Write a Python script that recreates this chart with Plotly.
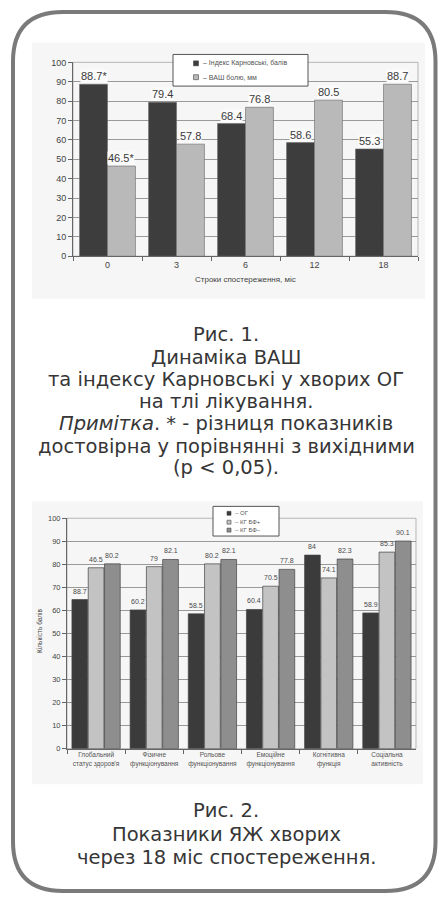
import plotly.graph_objects as go

W, H = 438, 901
def X(px): return px / W
def Y(py): return 1 - py / H

FONT = "Liberation Sans, Arial, sans-serif"
CAPFONT = "DejaVu Sans, sans-serif"

# ---- Chart 1 data ----
c1_categories = ["0", "3", "6", "12", "18"]
c1_karnofsky = [88.7, 79.4, 68.4, 58.6, 55.3]
c1_karnofsky_labels = ["88.7*", "79.4", "68.4", "58.6", "55.3"]
c1_vas = [46.5, 57.8, 76.8, 80.5, 88.7]
c1_vas_labels = ["46.5*", "57.8", "76.8", "80.5", "88.7"]
c1_series_names = ["– Індекс Карновські, балів", "– ВАШ болю, мм"]
c1_xtitle = "Строки спостереження, міс"
c1_yticks = list(range(0, 101, 10))

# ---- Chart 2 data ----
c2_categories = ["Глобальний<br>статус здоров'я", "Фізичне<br>функціонування",
                 "Рольове<br>функціонування", "Емоційне<br>функціонування",
                 "Когнітивна<br>функція", "Соціальна<br>активність"]
c2_og = [64.7, 60.2, 58.5, 60.4, 84, 58.9]
c2_og_labels = ["88.7", "60.2", "58.5", "60.4", "84", "58.9"]
c2_kg_bf_plus = [78.5, 79, 80.2, 70.5, 74.1, 85.3]
c2_kg_bf_plus_labels = ["46.5", "79", "80.2", "70.5", "74.1", "85.3"]
c2_kg_bf_minus = [80.2, 82.1, 82.1, 77.8, 82.3, 90.1]
c2_kg_bf_minus_labels = ["80.2", "82.1", "82.1", "77.8", "82.3", "90.1"]
c2_series_names = ["– ОГ", "– КГ БФ+", "– КГ БФ–"]
c2_ytitle = "Кількість балів"
c2_yticks = list(range(0, 101, 10))

captions1 = ["Рис. 1.", "Динаміка ВАШ", "та індексу Карновські у хворих ОГ",
             "на тлі лікування.", "<i>Примітка</i>. * - різниця показників",
             "достовірна у порівнянні з вихідними", "(p < 0,05)."]
captions2 = ["Рис. 2.", "Показники ЯЖ хворих", "через 18 міс спостереження."]

fig = go.Figure()

# chart 1 bars
c1_cols = ["#3d3d3d", "#b9b9b9"]
c1_w = 0.405
c1_off = [-0.405, 0.0]
for vals, col, off in zip([c1_karnofsky, c1_vas], c1_cols, c1_off):
    fig.add_trace(go.Bar(x=c1_categories, y=vals, marker=dict(color=col, line=dict(color="#6a6a6a", width=0.6)),
                         width=c1_w, offset=off, xaxis="x", yaxis="y", showlegend=False, hoverinfo="skip"))

# chart 2 bars
c2_cols = ["#3b3b3b", "#c3c3c3", "#8e8e8e"]
c2_w = 0.27
c2_off = [-0.415, -0.135, 0.145]
for vals, col, off in zip([c2_og, c2_kg_bf_plus, c2_kg_bf_minus], c2_cols, c2_off):
    fig.add_trace(go.Bar(x=c2_categories, y=vals, marker=dict(color=col, line=dict(color="#444", width=0.7)),
                         width=c2_w, offset=off, xaxis="x2", yaxis="y2", showlegend=False, hoverinfo="skip"))

ann = []
# chart 1 data labels
for vals, labs, off in zip([c1_karnofsky, c1_vas], [c1_karnofsky_labels, c1_vas_labels], c1_off):
    for i, (v, t) in enumerate(zip(vals, labs)):
        ann.append(dict(x=i + off + c1_w / 2, y=v, xref="x", yref="y", text=t, showarrow=False,
                        yanchor="bottom", yshift=1, font=dict(size=11, color="#3a3a3a", family=FONT),
                        bgcolor="#fbfbfb", borderpad=0))
# chart 2 data labels
for vals, labs, off in zip([c2_og, c2_kg_bf_plus, c2_kg_bf_minus],
                           [c2_og_labels, c2_kg_bf_plus_labels, c2_kg_bf_minus_labels], c2_off):
    for i, (v, t) in enumerate(zip(vals, labs)):
        ann.append(dict(x=i + off + c2_w / 2, y=v, xref="x2", yref="y2", text=t, showarrow=False,
                        yanchor="bottom", yshift=3, font=dict(size=7, color="#4a4a4a", family=FONT)))

# captions
cap1_y = [333, 356, 379, 401, 423, 446, 468]
for t, yy in zip(captions1, cap1_y):
    ann.append(dict(x=X(226), y=Y(yy), xref="paper", yref="paper", text=t, showarrow=False,
                    xanchor="center", yanchor="middle", font=dict(size=19.5, color="#363636", family=CAPFONT)))
cap2_y = [815, 839, 862]
for t, yy in zip(captions2, cap2_y):
    ann.append(dict(x=X(226), y=Y(yy), xref="paper", yref="paper", text=t, showarrow=False,
                    xanchor="center", yanchor="middle", font=dict(size=19.5, color="#363636", family=CAPFONT)))

shapes = []
# chart 1 legend (manual)
for name, col, yy in zip(c1_series_names, c1_cols, [59, 73]):
    shapes.append(dict(type="rect", xref="paper", yref="paper", x0=X(193.5), x1=X(198.5),
                       y0=Y(yy + 2.5), y1=Y(yy - 2.5), fillcolor=col, line=dict(color="#444", width=0.6),
                       layer="above"))
    ann.append(dict(x=X(201), y=Y(yy), xref="paper", yref="paper", text=name, showarrow=False,
                    xanchor="left", yanchor="middle", font=dict(size=7, color="#555", family=FONT)))
# chart 2 legend (manual)
for name, col, yy in zip(c2_series_names, c2_cols, [514, 523, 531]):
    shapes.append(dict(type="rect", xref="paper", yref="paper", x0=X(227), x1=X(231),
                       y0=Y(yy + 2), y1=Y(yy - 2), fillcolor=col, line=dict(color="#444", width=0.6),
                       layer="above"))
    ann.append(dict(x=X(233), y=Y(yy), xref="paper", yref="paper", text=name, showarrow=False,
                    xanchor="left", yanchor="middle", font=dict(size=6, color="#555", family=FONT)))

# axis titles
ann.append(dict(x=X(245), y=Y(278), xref="paper", yref="paper", text=c1_xtitle, showarrow=False,
                xanchor="center", yanchor="middle", font=dict(size=8, color="#444", family=FONT)))
ann.append(dict(x=X(40), y=Y(633), xref="paper", yref="paper", text=c2_ytitle, showarrow=False, textangle=-90,
                xanchor="center", yanchor="middle", font=dict(size=6.5, color="#444", family=FONT)))

# panels
shapes.append(dict(type="rect", xref="paper", yref="paper", x0=X(32), x1=X(425), y0=Y(297), y1=Y(38),
                   fillcolor="#f6f6f6", line=dict(width=0), layer="below"))
shapes.append(dict(type="rect", xref="paper", yref="paper", x0=X(32), x1=X(423), y0=Y(788), y1=Y(502),
                   fillcolor="#f6f6f6", line=dict(width=0), layer="below"))
# plot frames
shapes.append(dict(type="rect", xref="x domain", yref="y domain", x0=0, x1=1, y0=0, y1=1,
                   line=dict(color="#b5b5b5", width=1), layer="below"))
shapes.append(dict(type="rect", xref="x2 domain", yref="y2 domain", x0=0, x1=1, y0=0, y1=1,
                   line=dict(color="#b5b5b5", width=1), layer="below"))
# legend boxes
shapes.insert(0, dict(type="rect", xref="paper", yref="paper", x0=X(173), x1=X(308), y0=Y(82), y1=Y(50),
                      fillcolor="#ffffff", line=dict(color="#555", width=1), layer="above"))
shapes.insert(0, dict(type="rect", xref="paper", yref="paper", x0=X(213), x1=X(279), y0=Y(537), y1=Y(507),
                      fillcolor="#ffffff", line=dict(color="#555", width=1), layer="above"))
# rounded border
l, r, t, b, rad = 13, 435.5, 7, 896, 50
path = (f"M {X(l+rad)},{Y(t)} L {X(r-rad)},{Y(t)} Q {X(r)},{Y(t)} {X(r)},{Y(t+rad)} "
        f"L {X(r)},{Y(b-rad)} Q {X(r)},{Y(b)} {X(r-rad)},{Y(b)} "
        f"L {X(l+rad)},{Y(b)} Q {X(l)},{Y(b)} {X(l)},{Y(b-rad)} "
        f"L {X(l)},{Y(t+rad)} Q {X(l)},{Y(t)} {X(l+rad)},{Y(t)} Z")
shapes.append(dict(type="path", xref="paper", yref="paper", path=path,
                   line=dict(color="#7a7a7a", width=4), layer="below"))

axis_common = dict(showline=True, linecolor="#666", linewidth=1, ticks="outside", tickcolor="#666",
                   ticklen=4)

fig.update_layout(
    width=W, height=H, margin=dict(l=0, r=0, t=0, b=0),
    paper_bgcolor="#ffffff", plot_bgcolor="rgba(0,0,0,0)",
    barmode="overlay", showlegend=False,
    font=dict(family=FONT, color="#444"),
    xaxis=dict(domain=[X(73), X(418)], anchor="y", type="category", tickson="boundaries",
               showgrid=False, tickfont=dict(family=FONT, color="#444", size=9), **axis_common),
    yaxis=dict(domain=[Y(254), Y(58)], anchor="x", range=[0, 100], tickvals=c1_yticks,
               showgrid=True, gridcolor="#9a9a9a", gridwidth=1, zeroline=False,
               tickfont=dict(family=FONT, color="#444", size=9), **axis_common),
    xaxis2=dict(domain=[X(67), X(416)], anchor="y2", type="category", tickson="boundaries",
                showgrid=False, tickfont=dict(family=FONT, color="#555", size=6.5), **axis_common),
    yaxis2=dict(domain=[Y(752), Y(519)], anchor="x2", range=[0, 100], tickvals=c2_yticks,
                showgrid=True, gridcolor="#9a9a9a", gridwidth=1, zeroline=False,
                tickfont=dict(family=FONT, color="#444", size=7.5), **axis_common),
    annotations=ann, shapes=shapes,
)

fig.write_html("out.html")
